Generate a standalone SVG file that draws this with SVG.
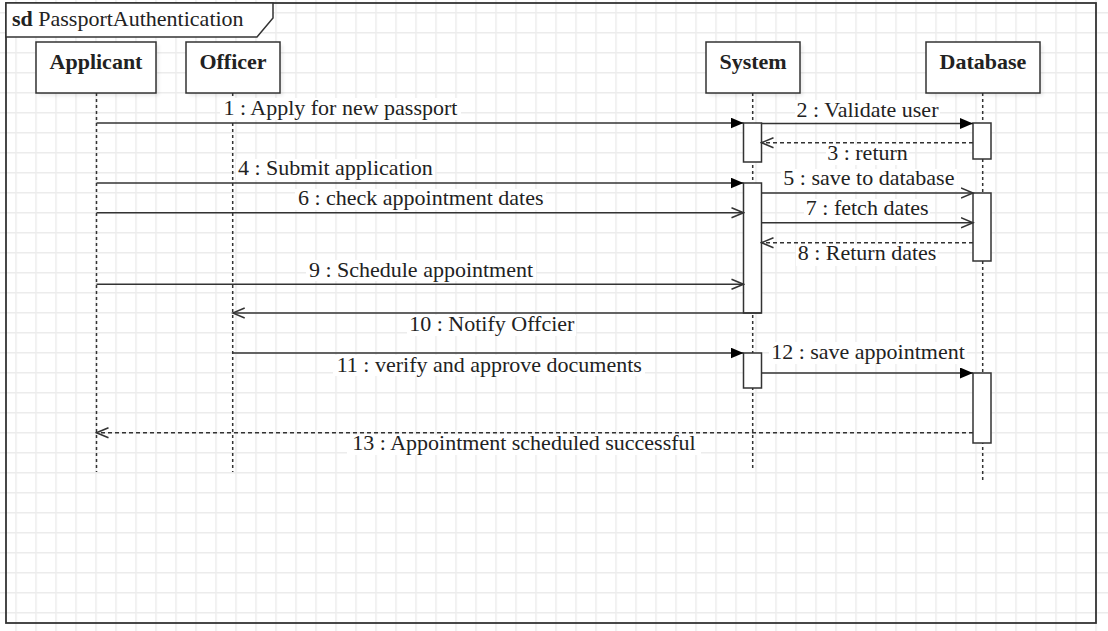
<svg xmlns="http://www.w3.org/2000/svg" width="1108" height="631" viewBox="0 0 1108 631">
<style>
text{font-family:"Liberation Serif","Times New Roman",serif;font-size:22px;fill:#222}
.hd{font-weight:bold;text-anchor:middle}
.lbl{text-anchor:middle}
.box{fill:#fff;stroke:#333;stroke-width:1.5}
.shadow{fill:#000;fill-opacity:0.07}
.life{stroke:#333;stroke-width:1.5;stroke-dasharray:3 3;fill:none}
.act{fill:#fff;stroke:#333;stroke-width:1.5}
.msg{stroke:#333;stroke-width:1.5;fill:none}
.ret{stroke:#333;stroke-width:1.5;fill:none;stroke-dasharray:4 3}
.bg{fill:#fff}
</style>
<defs>
<pattern id="grid" patternUnits="userSpaceOnUse" x="15.25" y="12" width="20" height="20">
<rect x="0" y="0" width="1.5" height="20" fill="#ececec"/>
<rect x="0" y="0" width="20" height="1.5" fill="#ececec"/>
</pattern>
<filter id="blur" x="-10%" y="-10%" width="120%" height="130%"><feGaussianBlur stdDeviation="1.5"/></filter>
<marker id="filled" markerUnits="userSpaceOnUse" markerWidth="14" markerHeight="12" refX="13" refY="5.5" orient="auto">
<path d="M0,0 L13,5.5 L0,11 z" fill="#000"/>
</marker>
<marker id="open" markerUnits="userSpaceOnUse" markerWidth="14" markerHeight="13" refX="12.5" refY="6" orient="auto">
<path d="M0.5,1 L12.5,6 L0.5,11" fill="none" stroke="#333" stroke-width="1.5"/>
</marker>
</defs>
<rect width="1108" height="631" fill="#fff"/>
<rect width="1108" height="631" fill="url(#grid)"/>
<g id="frame">
<rect x="6" y="3" width="1090" height="620" fill="none" stroke="#333" stroke-width="1.8"/>
<path d="M6,3 H273 V18 L257,37 H6 Z" fill="#fff" stroke="#333" stroke-width="1.5"/>
<text x="12" y="26"><tspan font-weight="bold">sd</tspan> PassportAuthentication</text>
</g>
<g id="applicant">
<rect class="shadow" x="39" y="45" width="120" height="51" filter="url(#blur)"/>
<rect class="box" x="36" y="42" width="120" height="51"/>
<text class="hd" x="96" y="69">Applicant</text>
<line class="life" x1="96.5" y1="93" x2="96.5" y2="472"/>
</g>
<g id="officer">
<rect class="shadow" x="189" y="45" width="94" height="51" filter="url(#blur)"/>
<rect class="box" x="186" y="42" width="94" height="51"/>
<text class="hd" x="233" y="69">Officer</text>
<line class="life" x1="232.7" y1="93" x2="232.7" y2="472"/>
</g>
<g id="system">
<rect class="shadow" x="709" y="45" width="94" height="51" filter="url(#blur)"/>
<rect class="box" x="706" y="42" width="94" height="51"/>
<text class="hd" x="753" y="69">System</text>
<line class="life" x1="752.7" y1="93" x2="752.7" y2="471"/>
<rect class="act" x="743.5" y="123" width="18" height="39"/>
<rect class="act" x="743.5" y="183" width="18" height="130"/>
<rect class="act" x="743.5" y="353" width="18" height="35"/>
</g>
<g id="database">
<rect class="shadow" x="929" y="45" width="114" height="51" filter="url(#blur)"/>
<rect class="box" x="926" y="42" width="114" height="51"/>
<text class="hd" x="983" y="69">Database</text>
<line class="life" x1="982.7" y1="93" x2="982.7" y2="480"/>
<rect class="act" x="973" y="123" width="18" height="36"/>
<rect class="act" x="973" y="193" width="18" height="68"/>
<rect class="act" x="973" y="373" width="18" height="70"/>
</g>
<g id="connectors">
<line class="msg" x1="96.5" y1="123" x2="743.5" y2="123" marker-end="url(#filled)"/>
<line class="msg" x1="761.5" y1="123.5" x2="973" y2="123.5" marker-end="url(#filled)"/>
<line class="ret" x1="973" y1="142.7" x2="761.5" y2="142.7" marker-end="url(#open)"/>
<line class="msg" x1="96.5" y1="183" x2="743.5" y2="183" marker-end="url(#filled)"/>
<line class="msg" x1="761.5" y1="193" x2="973" y2="193" marker-end="url(#open)"/>
<line class="msg" x1="96.5" y1="212.7" x2="743.5" y2="212.7" marker-end="url(#open)"/>
<line class="msg" x1="761.5" y1="222.7" x2="973" y2="222.7" marker-end="url(#open)"/>
<line class="ret" x1="973" y1="242.7" x2="761.5" y2="242.7" marker-end="url(#open)"/>
<line class="msg" x1="96.5" y1="284.3" x2="743.5" y2="284.3" marker-end="url(#open)"/>
<line class="msg" x1="761.5" y1="313" x2="232.7" y2="313" marker-end="url(#open)"/>
<line class="msg" x1="232.7" y1="353" x2="743.5" y2="353" marker-end="url(#filled)"/>
<line class="msg" x1="761.5" y1="373" x2="973" y2="373" marker-end="url(#filled)"/>
<line class="ret" x1="973" y1="432.7" x2="96.5" y2="432.7" marker-end="url(#open)"/>
</g>
<g id="labels">
<rect class="bg" x="220" y="98" width="241" height="22"/>
<text class="lbl" x="340.4" y="115">1 : Apply for new passport</text>
<rect class="bg" x="795" y="100" width="145" height="22"/>
<text class="lbl" x="867.5" y="117">2 : Validate user</text>
<rect class="bg" x="826" y="145" width="83" height="20"/>
<text class="lbl" x="867.5" y="160">3 : return</text>
<rect class="bg" x="236" y="159" width="199" height="21"/>
<text class="lbl" x="335.4" y="175">4 : Submit application</text>
<rect class="bg" x="781" y="169" width="176" height="22"/>
<text class="lbl" x="868.9" y="185">5 : save to database</text>
<rect class="bg" x="295" y="189" width="251" height="21"/>
<text class="lbl" x="420.7" y="205">6 : check appointment dates</text>
<rect class="bg" x="804" y="199" width="126" height="21"/>
<text class="lbl" x="867.2" y="215">7 : fetch dates</text>
<rect class="bg" x="796" y="245" width="142" height="21"/>
<text class="lbl" x="867" y="260">8 : Return dates</text>
<rect class="bg" x="306" y="260" width="230" height="21"/>
<text class="lbl" x="421" y="276.7">9 : Schedule appointment</text>
<rect class="bg" x="407" y="315" width="169" height="21"/>
<text class="lbl" x="491.8" y="331">10 : Notify Offcier</text>
<rect class="bg" x="333" y="355" width="312" height="21"/>
<text class="lbl" x="489.3" y="371.7">11 : verify and approve documents</text>
<rect class="bg" x="769" y="342" width="198" height="22"/>
<text class="lbl" x="868" y="359.3">12 : save appointment</text>
<rect class="bg" x="347" y="435" width="354" height="20"/>
<text class="lbl" x="524" y="450">13 : Appointment scheduled successful</text>
</g>
</svg>
